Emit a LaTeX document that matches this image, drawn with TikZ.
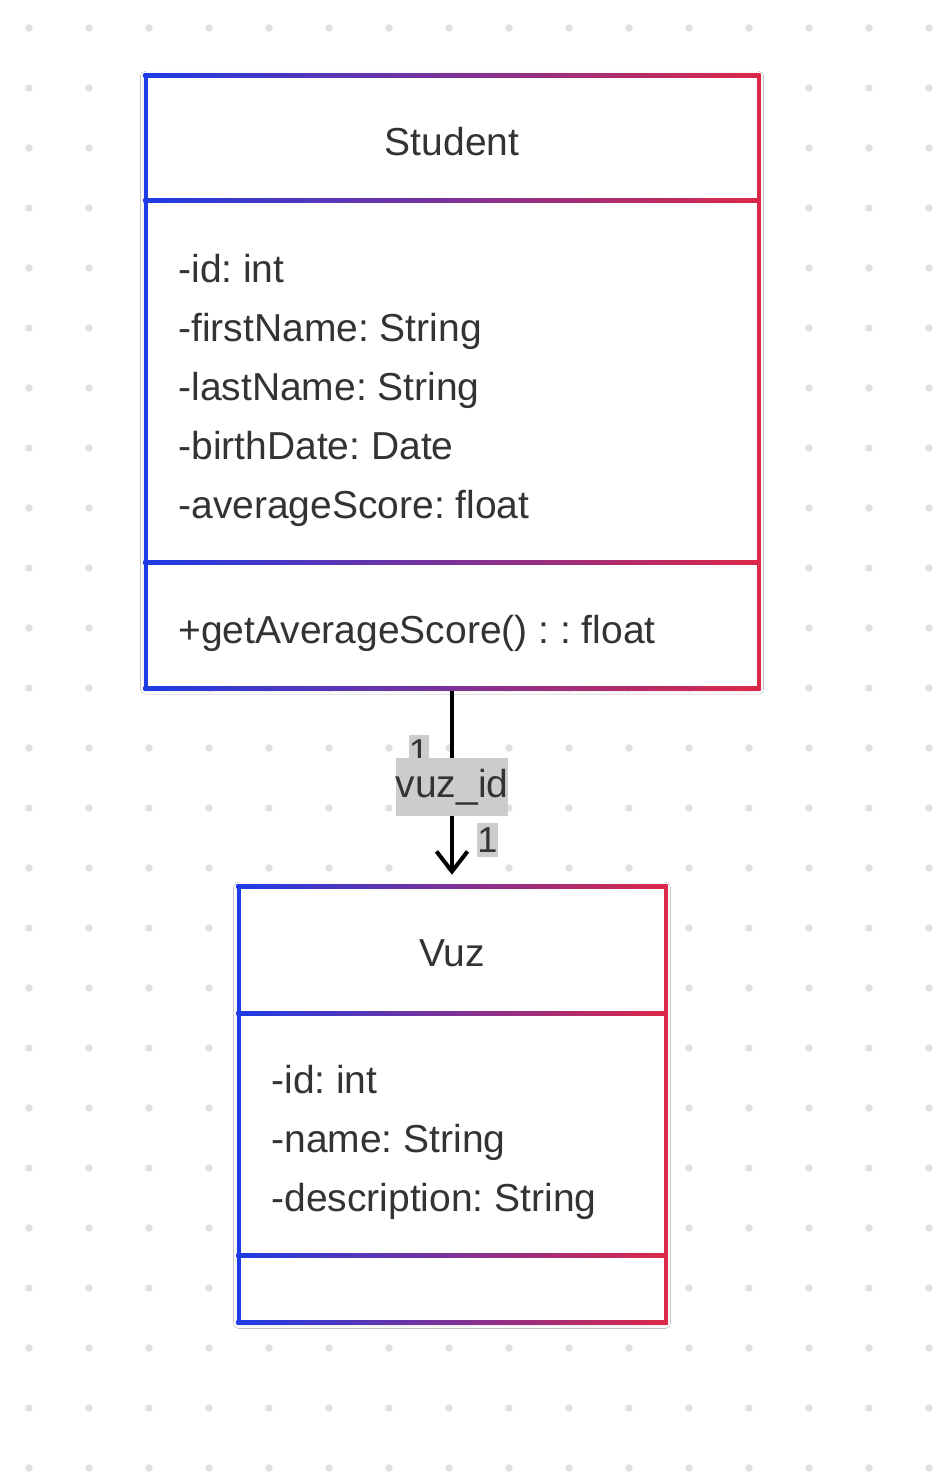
\documentclass[tikz,border=0pt]{standalone}
\usepackage{fontspec}
\setmainfont{Liberation Sans}
\frenchspacing
\usetikzlibrary{arrows.meta,shadows.blur}
\definecolor{umlblue}{RGB}{30,60,230}
\definecolor{umlred}{RGB}{220,40,72}
\definecolor{umltext}{RGB}{51,51,51}
\definecolor{griddot}{RGB}{224,224,227}
\definecolor{tagbg}{RGB}{204,204,204}
\begin{document}
\begin{tikzpicture}[x=0.02cm,y=-0.02cm,
  classbox/.style = {rectangle, fill=white, inner sep=0pt, blur shadow={shadow xshift=0pt, shadow yshift=-0.5pt, shadow blur radius=3pt, shadow opacity=18}},
  bar/.style = {left color=umlblue, right color=umlred, draw=none},
  title/.style = {font=\fontsize{22.2}{26}\selectfont, text=umltext},
  member/.style = {font=\fontsize{22.2}{26}\selectfont, text=umltext, anchor=base west, inner sep=0pt},
  mult/.style = {fill=tagbg, text=umltext, font=\fontsize{20.5}{24}\selectfont, inner sep=0pt, minimum width=0.36cm, minimum height=0.68cm},
  assoc/.style = {line width=0.08cm, -{Straight Barb[length=0.4cm,width=0.62cm]}, shorten >=0.23cm}]
\useasboundingbox[fill=white] (0,0) rectangle (942,1478);
% dotted background
\foreach \i in {0,...,15}
  \foreach \j in {0,...,24}
    \fill[griddot] (29+60*\i,28+60*\j) circle (0.075cm);
% class boxes
\node[classbox, minimum width=12.26cm, minimum height=12.25cm] (student) at (452,381.75) {};
\node[classbox, minimum width=8.53cm, minimum height=8.72cm] (vuz) at (452,1104.5) {};
% association
\draw[assoc] (student.south) -- (vuz.north);
\node[mult] (srcmult) at (419,752) {1};
\node[fill=tagbg, text=umltext, font=\fontsize{22.2}{26}\selectfont, inner sep=0pt, minimum width=2.26cm, minimum height=1.16cm] (vuzid) at (452,787) {vuz\_id};
\node[mult] (dstmult) at (487.5,840) {1};
% frames
\foreach \y in {75.5,200.5,562,688}
  \shade[bar] (143.5,\y-2) rectangle (760.5,\y+2);
\fill[umlblue] (143.5,73.5) rectangle (147.5,690);
\fill[umlred] (756.5,73.5) rectangle (760.5,690);
\foreach \y in {886.5,1013,1255.5,1322.5}
  \shade[bar] (236.5,\y-2) rectangle (667.5,\y+2);
\fill[umlblue] (236.5,884.5) rectangle (240.5,1324.5);
\fill[umlred] (663.5,884.5) rectangle (667.5,1324.5);
% Student
\node[title] (studentname) at (452,142) {Student};
\foreach \t [count=\k] in {-id: int,-firstName: String,-lastName: String,-birthDate: Date,-averageScore: float}
  \node[member] (sattr\k) at (178,223+59*\k) {\t};
\node[member] (smethod) at (178,643) {+getAverageScore() : : float};
% Vuz
\node[title] (vuzname) at (452,953) {Vuz};
\foreach \t [count=\k] in {-id: int,-name: String,-description: String}
  \node[member] (vattr\k) at (271,1034+59*\k) {\t};
\end{tikzpicture}
\end{document}
